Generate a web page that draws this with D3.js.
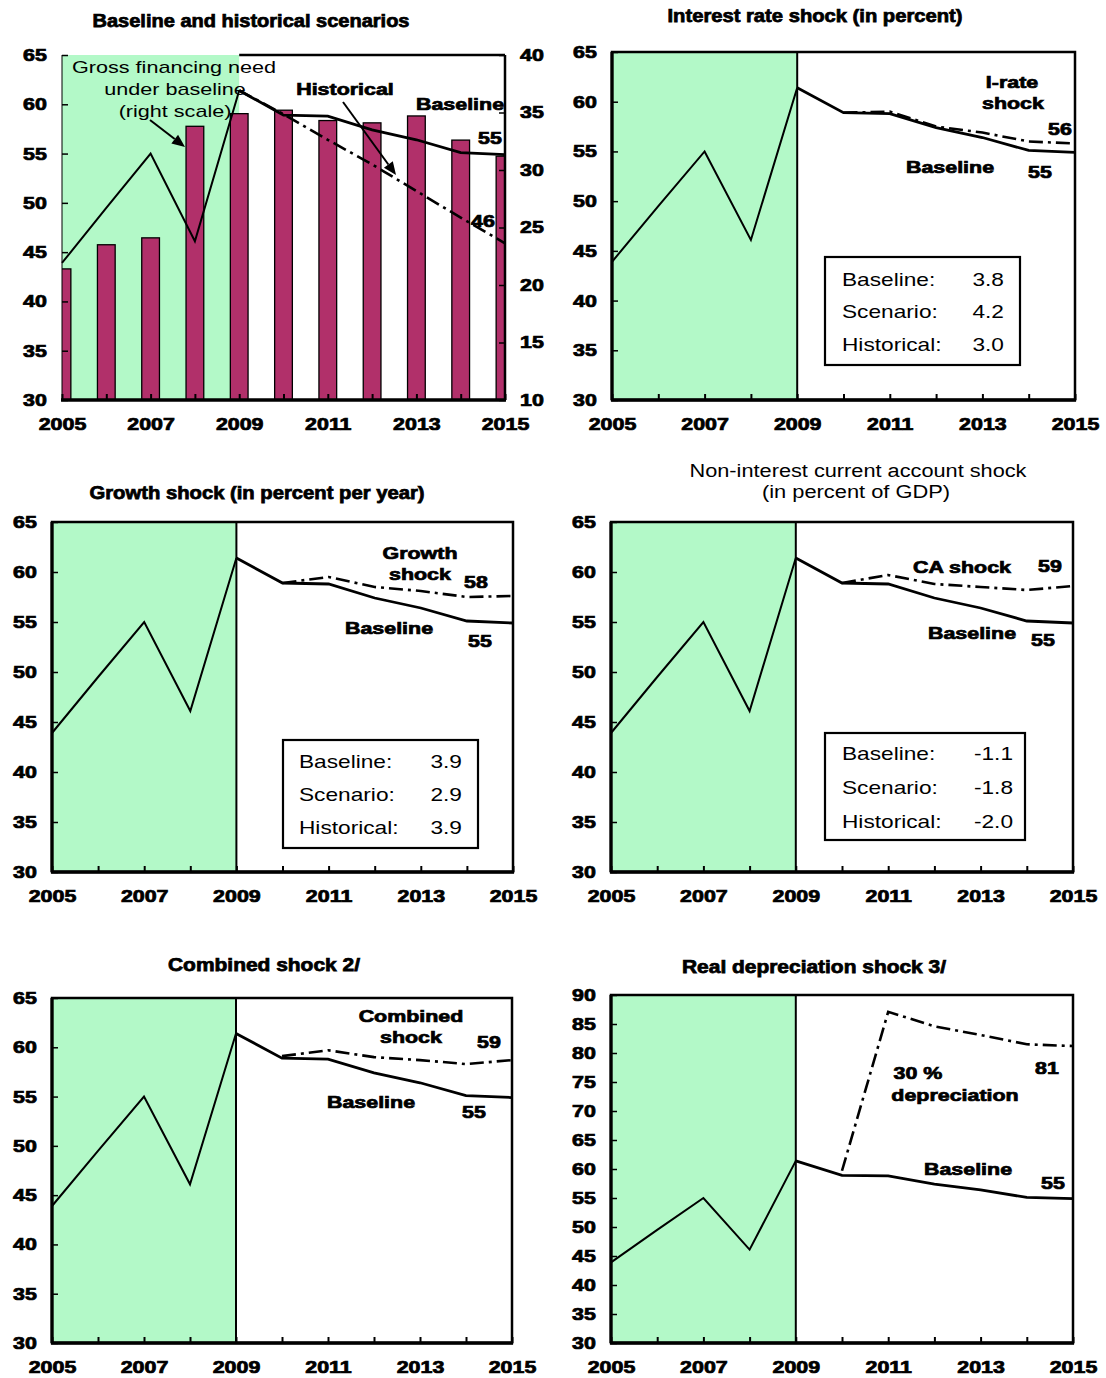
<!DOCTYPE html>
<html><head><meta charset="utf-8">
<script src="https://cdn.jsdelivr.net/npm/d3@7"></script>
<style>
body{margin:0;background:#fff}
svg{display:block}
text{font-family:"Liberation Sans",Arial,sans-serif;fill:#000}
</style>
</head><body>
<script>
// ---------------- DATA ----------------
const years = [2005,2006,2007,2008,2009,2010,2011,2012,2013,2014,2015];
const xTickLabels = [2005,2007,2009,2011,2013,2015];
const yTicks65 = [30,35,40,45,50,55,60,65];
const yTicks90 = [30,35,40,45,50,55,60,65,70,75,80,85,90];
const rightTicks = [10,15,20,25,30,35,40];

const baseline = [43.9,49.5,55.0,46.1,61.4,58.9,58.8,57.4,56.4,55.1,54.9];
const grossFinancingNeed = [21.4,23.5,24.1,33.8,34.9,35.2,34.3,34.1,34.7,32.6,31.2];

const projYears = [2009,2010,2011,2012,2013,2014,2015];
const historical = [61.4,59.0,56.4,53.9,51.2,48.5,45.9];

const shockYears = [2010,2011,2012,2013,2014,2015];
const iRateShock = [58.9,59.0,57.5,56.9,56.0,55.8];
const growthShock = [58.9,59.5,58.5,58.1,57.5,57.6];
const caShock = [58.9,59.7,58.8,58.5,58.2,58.6];
const combinedShock = [59.1,59.7,59.0,58.7,58.3,58.7];
const depreciationShock = [59.7,87.1,84.6,83.1,81.5,81.2];

const boxLabels = ["Baseline:","Scenario:","Historical:"];
const iRateBox = ["3.8","4.2","3.0"];
const growthBox = ["3.9","2.9","3.9"];
const caBox = ["-1.1","-1.8","-2.0"];

// ---------------- DRAWING ----------------
const W=1106,H=1378;
const svg = d3.select("body").append("svg").attr("width",W).attr("height",H);
const GREEN="#b3f9c8", BAR="#b1306a";
const SX=1.26, HEAVY=0.75;
let clipId=0;

function txt(g,x,y,s,o={}){
  const w=o.weight||"bold";
  const t=g.append("text")
    .attr("transform",`translate(${x},${y}) scale(${o.sx??SX},1)`)
    .attr("text-anchor",o.anchor||"middle")
    .attr("dominant-baseline","central")
    .attr("font-size",o.size||17)
    .attr("font-weight",w)
    .text(s);
  if(w==="bold") t.attr("stroke","#000").attr("stroke-width",HEAVY);
  return t;
}
function title(x,y,s,w,weight){
  const t=svg.append("text").attr("x",x).attr("y",y).attr("text-anchor","middle")
    .attr("dominant-baseline","central").attr("font-size",18)
    .attr("font-weight",weight||"bold").attr("textLength",w)
    .attr("lengthAdjust","spacingAndGlyphs").text(s);
  if((weight||"bold")==="bold") t.attr("stroke","#000").attr("stroke-width",HEAVY);
}
function arrow(g,x1,y1,x2,y2){
  const a=Math.atan2(y2-y1,x2-x1), L=13, Wd=5.5;
  const bx=x2-L*Math.cos(a), by=y2-L*Math.sin(a);
  g.append("line").attr("x1",x1).attr("y1",y1).attr("x2",bx).attr("y2",by)
    .attr("stroke","#000").attr("stroke-width",2);
  g.append("polygon").attr("points",[
    [x2,y2],[bx+Wd*Math.sin(a),by-Wd*Math.cos(a)],[bx-Wd*Math.sin(a),by+Wd*Math.cos(a)]
  ].map(p=>p.join(",")).join(" ")).attr("fill","#000");
}
function box(g,x,y,w,h,vals,lx,vx,rows){
  g.append("rect").attr("x",x).attr("y",y).attr("width",w).attr("height",h)
    .attr("fill","#fff").attr("stroke","#000").attr("stroke-width",2.2);
  boxLabels.forEach((l,i)=>{
    txt(g,lx,rows[i],l,{weight:"normal",anchor:"start",size:18});
    txt(g,vx,rows[i],vals[i],{weight:"normal",anchor:"end",size:18});
  });
}
function styleAxisText(sel){
  sel.attr("transform",`scale(${SX},1)`).attr("font-size",17).attr("font-weight","bold")
    .attr("font-family",'"Liberation Sans",Arial,sans-serif').attr("stroke","#000").attr("stroke-width",HEAVY);
}

function panel(c){
  const g=svg.append("g");
  const x=d3.scaleLinear().domain([2005,2015]).range([c.l,c.r]);
  const y=d3.scaleLinear().domain(c.yDomain).range([c.b,c.t]);
  const x09=x(2009);
  g.append("rect").attr("x",c.l).attr("y",c.t).attr("width",x09-c.l).attr("height",c.b-c.t).attr("fill",GREEN);

  if(c.bars){
    const y2=d3.scaleLinear().domain([10,40]).range([c.b,c.t]);
    const id="clip"+(clipId++);
    g.append("clipPath").attr("id",id).append("rect").attr("x",c.l).attr("y",c.t-5).attr("width",c.r-c.l).attr("height",c.b-c.t+5);
    const bw=(x(2006)-x(2005))*0.4;
    g.append("g").attr("clip-path",`url(#${id})`).selectAll("rect").data(years).join("rect")
      .attr("x",d=>x(d)-bw/2).attr("width",bw)
      .attr("y",(d,i)=>y2(c.bars[i])).attr("height",(d,i)=>c.b-y2(c.bars[i]))
      .attr("fill",BAR).attr("stroke","#000").attr("stroke-width",1.3);
    const ra=g.append("g").attr("transform",`translate(${c.r},0)`)
      .call(d3.axisRight(y2).tickValues(rightTicks).tickSizeInner(-6).tickSizeOuter(0).tickPadding(12).tickFormat(d3.format("d")));
    ra.select(".domain").remove();
    ra.selectAll("line").attr("stroke-width",1.5);
    styleAxisText(ra.selectAll("text"));
    g.append("line").attr("x1",x09).attr("x2",c.r).attr("y1",c.t).attr("y2",c.t).attr("stroke","#000").attr("stroke-width",2.5);
    g.append("line").attr("x1",c.r).attr("x2",c.r).attr("y1",c.t).attr("y2",c.b).attr("stroke","#000").attr("stroke-width",2.5);
    g.append("line").attr("x1",c.l).attr("x2",c.l).attr("y1",c.t).attr("y2",c.b).attr("stroke","#000").attr("stroke-width",1);
  } else {
    g.append("rect").attr("x",c.l).attr("y",c.t).attr("width",c.r-c.l).attr("height",c.b-c.t)
      .attr("fill","none").attr("stroke","#000").attr("stroke-width",2.5);
    g.append("line").attr("x1",c.l).attr("x2",c.l).attr("y1",c.t).attr("y2",c.b).attr("stroke","#000").attr("stroke-width",3.2);
    g.append("line").attr("x1",x09).attr("x2",x09).attr("y1",c.t).attr("y2",c.b).attr("stroke","#000").attr("stroke-width",2);
  }
  const xa=g.append("g").attr("transform",`translate(0,${c.b})`)
    .call(d3.axisBottom(x).tickValues(years).tickSizeInner(-6).tickSizeOuter(0).tickPadding(18)
      .tickFormat(d=>xTickLabels.includes(d)?String(d):""));
  xa.select(".domain").remove();
  xa.selectAll("line").attr("stroke-width",2);
  styleAxisText(xa.selectAll("text"));
  g.append("line").attr("x1",c.l-1).attr("x2",c.r+1).attr("y1",c.b).attr("y2",c.b).attr("stroke","#000").attr("stroke-width",3.5);
  const ya=g.append("g").attr("transform",`translate(${c.l},0)`)
    .call(d3.axisLeft(y).tickValues(c.yTicks).tickSizeInner(-6).tickSizeOuter(0).tickPadding(12).tickFormat(d3.format("d")));
  ya.select(".domain").remove();
  ya.selectAll("line").attr("stroke-width",1.5);
  styleAxisText(ya.selectAll("text"));

  const line=d3.line().x(d=>x(d[0])).y(d=>y(d[1]));
  if(c.scenario){
    g.append("path").datum(c.scenYears.map((yr,i)=>[yr,c.scenario[i]]))
      .attr("d",line).attr("fill","none").attr("stroke","#000").attr("stroke-width",2.6)
      .attr("stroke-dasharray","14,5,3,5");
  }
  const bl=years.map((yr,i)=>[yr,baseline[i]]);
  g.append("path").datum(bl.slice(0,5)).attr("d",line).attr("fill","none").attr("stroke","#000").attr("stroke-width",2);
  g.append("path").datum(bl.slice(4)).attr("d",line).attr("fill","none").attr("stroke","#000").attr("stroke-width",2.8);
  return g;
}

// Panel 1
const g1=panel({l:62,r:505,t:55,b:400,yDomain:[30,65],yTicks:yTicks65,bars:grossFinancingNeed,scenario:historical,scenYears:projYears});
title(251,21,"Baseline and historical scenarios",317);
txt(g1,174,67,"Gross financing need",{weight:"normal",size:17,sx:1.27});
txt(g1,175,89,"under baseline",{weight:"normal",size:17,sx:1.27});
txt(g1,175,111,"(right scale)",{weight:"normal",size:17,sx:1.27});
arrow(g1,150,120,185,147);
txt(g1,345,89,"Historical");
arrow(g1,343,102,396,175);
txt(g1,460,104,"Baseline");
txt(g1,490,138,"55");
txt(g1,483,221,"46");

// Panel 2
const g2=panel({l:612,r:1075,t:52,b:400,yDomain:[30,65],yTicks:yTicks65,scenario:iRateShock,scenYears:shockYears});
title(815,16,"Interest rate shock (in percent)",295);
txt(g2,1012,82,"I-rate");
txt(g2,1013,103,"shock");
txt(g2,1060,129,"56");
txt(g2,950,167,"Baseline");
txt(g2,1040,172,"55");
box(g2,825,257,195,108,iRateBox,842,1004,[279,311,344]);

// Panel 3
const g3=panel({l:52,r:513,t:522,b:872,yDomain:[30,65],yTicks:yTicks65,scenario:growthShock,scenYears:shockYears});
title(257,493,"Growth shock (in percent per year)",335);
txt(g3,420,553,"Growth");
txt(g3,420,574,"shock");
txt(g3,476,582,"58");
txt(g3,389,628,"Baseline");
txt(g3,480,641,"55");
box(g3,283,740,195,108,growthBox,299,462,[761,794,827]);

// Panel 4
const g4=panel({l:611,r:1073,t:522,b:872,yDomain:[30,65],yTicks:yTicks65,scenario:caShock,scenYears:shockYears});
title(858,471,"Non-interest current account shock",337,"normal");
title(856,492,"(in percent of GDP)",188,"normal");
txt(g4,962,567,"CA shock");
txt(g4,1050,566,"59");
txt(g4,972,633,"Baseline");
txt(g4,1043,640,"55");
box(g4,825,733,200,107,caBox,842,1013,[753,787,821]);

// Panel 5
const g5=panel({l:52,r:512,t:998,b:1343,yDomain:[30,65],yTicks:yTicks65,scenario:combinedShock,scenYears:shockYears});
title(264,965,"Combined shock 2/",192);
txt(g5,411,1016,"Combined");
txt(g5,411,1037,"shock");
txt(g5,489,1042,"59");
txt(g5,371,1102,"Baseline");
txt(g5,474,1112,"55");

// Panel 6
const g6=panel({l:611,r:1073,t:995,b:1343,yDomain:[30,90],yTicks:yTicks90,scenario:depreciationShock,scenYears:shockYears});
title(814,967,"Real depreciation shock 3/",264);
txt(g6,918,1073,"30 %");
txt(g6,955,1095,"depreciation");
txt(g6,1047,1068,"81");
txt(g6,968,1169,"Baseline");
txt(g6,1053,1183,"55");
</script>
</body></html>
